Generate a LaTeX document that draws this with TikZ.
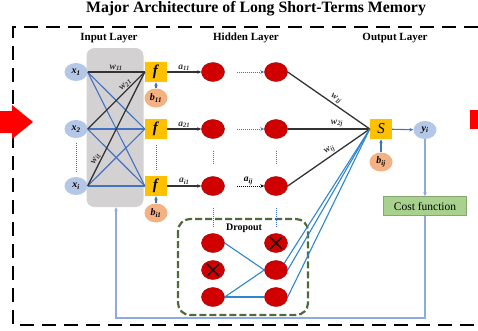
\documentclass[tikz,border=0pt]{standalone}
\usepackage{fontspec}
\setmainfont{Liberation Serif}
\usetikzlibrary{shapes,arrows,positioning,calc,arrows.meta}

\definecolor{inblue}{HTML}{B4C7E7}
\definecolor{fyellow}{HTML}{FFC000}
\definecolor{bpeach}{HTML}{F4B183}
\definecolor{nred}{HTML}{D00000}
\definecolor{lnblue}{HTML}{4472C4}
\definecolor{dpblue}{HTML}{2E86D0}
\definecolor{fbblue}{HTML}{8FAADC}
\definecolor{dropgreen}{HTML}{4E6B3A}
\definecolor{costgreen}{HTML}{A9D18E}
\definecolor{layergray}{HTML}{D3D1D1}

% bold italic label with subscript
\newcommand{\lb}[2]{\textbf{\textit{#1\textsubscript{#2}}}}

\tikzset{
    inp/.style={ellipse, fill=inblue, minimum width=23pt, minimum height=18pt, inner sep=0pt, font=\fontsize{10}{12}\selectfont},
    fbox/.style={rectangle, fill=fyellow, minimum width=22pt, minimum height=20pt, inner sep=0pt, font=\fontsize{15}{17}\selectfont},
    bias/.style={ellipse, fill=bpeach, minimum width=23pt, minimum height=19pt, inner sep=0pt, font=\fontsize{10}{12}\selectfont},
    hid/.style={ellipse, fill=nred, draw=nred!75!black, minimum width=23pt, minimum height=19pt, inner sep=0pt},
    wt/.style={font=\fontsize{9.5}{11}\selectfont, inner sep=1pt},
    arr/.style={-{Stealth[length=4pt, width=3.5pt]}},
    blk/.style={black!80, line width=1.3pt},
    mesh/.style={lnblue, line width=1.1pt},
    drop/.style={dpblue, line width=1.1pt},
    fb/.style={fbblue, line width=1.2pt},
    vdots/.style={lnblue, densely dotted, line width=1pt},
    cross/.style={black, line width=1.2pt},
}

\begin{document}
\begin{tikzpicture}[x=1pt, y=-1pt]
    \useasboundingbox (0,0) rectangle (478,330);

    % Title and frame
    \node[font=\bfseries\fontsize{15.8}{18}\selectfont] (title) at (256,9) {Major Architecture of Long Short-Terms Memory};
    \draw[line width=2.5pt, dash pattern=on 14pt off 8pt] (478,27) -- (13,27) -- (13,325) -- (478,325);
    \fill[red] (0,111) -- (12,111) -- (12,105) -- (33,122) -- (12,139) -- (12,133) -- (0,133) -- cycle;
    \fill[red] (470,110) rectangle (478,129);

    % Layer labels
    \node[font=\bfseries\fontsize{11}{13}\selectfont] (linput) at (109,38) {Input Layer};
    \node[font=\bfseries\fontsize{11}{13}\selectfont] (lhidden) at (246,38) {Hidden Layer};
    \node[font=\bfseries\fontsize{11}{13}\selectfont] (loutput) at (395,38) {Output Layer};

    % Input layer
    \node[fill=layergray, rounded corners=8pt, minimum width=57pt, minimum height=159pt] (layer) at (115,127.5) {};
    \node[inp] (x1) at (76,72) {\lb{x}{1}};
    \node[inp] (x2) at (76,129) {\lb{x}{2}};
    \node[inp] (xi) at (76,186) {\lb{x}{i}};
    \node[fbox] (f1) at (156,72) {\textbf{\textit{f}}};
    \node[fbox] (f2) at (156,129) {\textbf{\textit{f}}};
    \node[fbox] (fi) at (156,186) {\textbf{\textit{f}}};
    \node[bias] (b1) at (156,98) {\lb{b}{11}};
    \node[bias] (bi) at (156,213) {\lb{b}{i1}};

    \foreach \s in {x1,x2,xi}
        \foreach \t in {f2,fi}
            \draw[mesh] (\s.east) -- (\t.west);
    \draw[blk] (x1.east) -- (f1.west) node[wt, midway, above] {\lb{w}{11}};
    \draw[blk] (x2.east) -- (f1.west) node[wt, pos=0.72, above, sloped] {\lb{w}{21}};
    \draw[blk] (xi.east) -- (f1.west) node[wt, pos=0.22, above, sloped] {\lb{w}{i1}};
    \draw[mesh, arr] (b1) -- (f1);
    \draw[mesh, arr] (bi) -- (fi);
    \draw[vdots] ($(x2.south)+(0,5)$) -- ($(xi.north)+(0,-5)$);
    \draw[vdots] ($(f2.south)+(0,6)$) -- ($(fi.north)+(0,-6)$);

    % Hidden layer
    \node[hid] (h11) at (213,72) {};
    \node[hid] (h21) at (213,129) {};
    \node[hid] (hi1) at (213,186) {};
    \node[hid] (h12) at (276,72) {};
    \node[hid] (h22) at (276,129) {};
    \node[hid] (hi2) at (276,186) {};
    \draw[blk, arr] (f1) -- (h11) node[wt, midway, above] {\lb{a}{11}};
    \draw[blk, arr] (f2) -- (h21) node[wt, midway, above] {\lb{a}{21}};
    \draw[blk, arr] (fi) -- (hi1) node[wt, midway, above] {\lb{a}{i1}};
    \draw[vdots, arr, shorten <=12pt] (h11) -- (h12);
    \draw[vdots, arr, shorten <=12pt] (h21) -- (h22);
    \draw[black, densely dotted, line width=1pt, arr, shorten <=12pt] (hi1) -- (hi2) node[wt, pos=0.6, above] {\lb{a}{ij}};
    \draw[vdots, shorten <=12pt, shorten >=12pt] (h21) -- (hi1);
    \draw[vdots, shorten <=12pt, shorten >=12pt] (h22) -- (hi2);

    % Dropout
    \draw[dropgreen, line width=2.2pt, dash pattern=on 7pt off 3pt, rounded corners=12pt] (178,219) rectangle (308,315);
    \node[font=\bfseries\fontsize{10}{12}\selectfont] (ldrop) at (244,228) {Dropout};
    \node[hid] (d11) at (213,243) {};
    \node[hid] (d21) at (213,270) {};
    \node[hid] (d31) at (213,297) {};
    \node[hid] (d12) at (276,243) {};
    \node[hid] (d22) at (276,270) {};
    \node[hid] (d32) at (276,297) {};
    \draw[cross] ($(d21)+(-6,-6)$) -- ($(d21)+(6,6)$) ($(d21)+(-6,6)$) -- ($(d21)+(6,-6)$);
    \draw[cross] ($(d12)+(-6,-6)$) -- ($(d12)+(6,6)$) ($(d12)+(-6,6)$) -- ($(d12)+(6,-6)$);
    \draw[vdots, shorten <=12pt, shorten >=7pt] (hi1) -- (d11);
    \draw[vdots, shorten <=12pt, shorten >=7pt] (hi2) -- (d12);
    \draw[drop] (d11.east) -- (d22.west);
    \draw[drop] (d31.east) -- (d22.west);
    \draw[drop] (d31.east) -- (d32.west);

    % Output layer
    \node[fbox] (S) at (381,129) {\textit{S}};
    \node[bias] (bo) at (381,162) {\lb{b}{ij}};
    \node[inp] (y) at (425,130) {\lb{y}{i}};
    \node[fill=costgreen, draw=costgreen!80!black, minimum width=83pt, minimum height=19pt, inner sep=0pt, font=\fontsize{11.5}{13}\selectfont] (cost) at (425,206) {Cost function};
    \draw[blk] (h12.east) -- (S.west) node[wt, pos=0.55, above, sloped] {\lb{w}{1j}};
    \draw[blk] (h22.east) -- (S.west) node[wt, pos=0.6, above] {\lb{w}{2j}};
    \draw[blk] (hi2.east) -- (S.west) node[wt, pos=0.55, above, sloped] {\lb{w}{ij}};
    \draw[drop] (d22.north east) -- (S.west);
    \draw[drop] (d22.east) -- (S.west);
    \draw[drop] (d32.east) -- (S.west);
    \draw[mesh, arr] (bo) -- (S);
    \draw[mesh, arr] (S) -- (y);
    \draw[fb, arr] (y) -- (cost);

    % Feedback
    \coordinate (fbturn) at (116,318);
    \draw[fb, arr] (cost.south) |- (fbturn) -- (layer.south -| fbturn);
\end{tikzpicture}
\end{document}
